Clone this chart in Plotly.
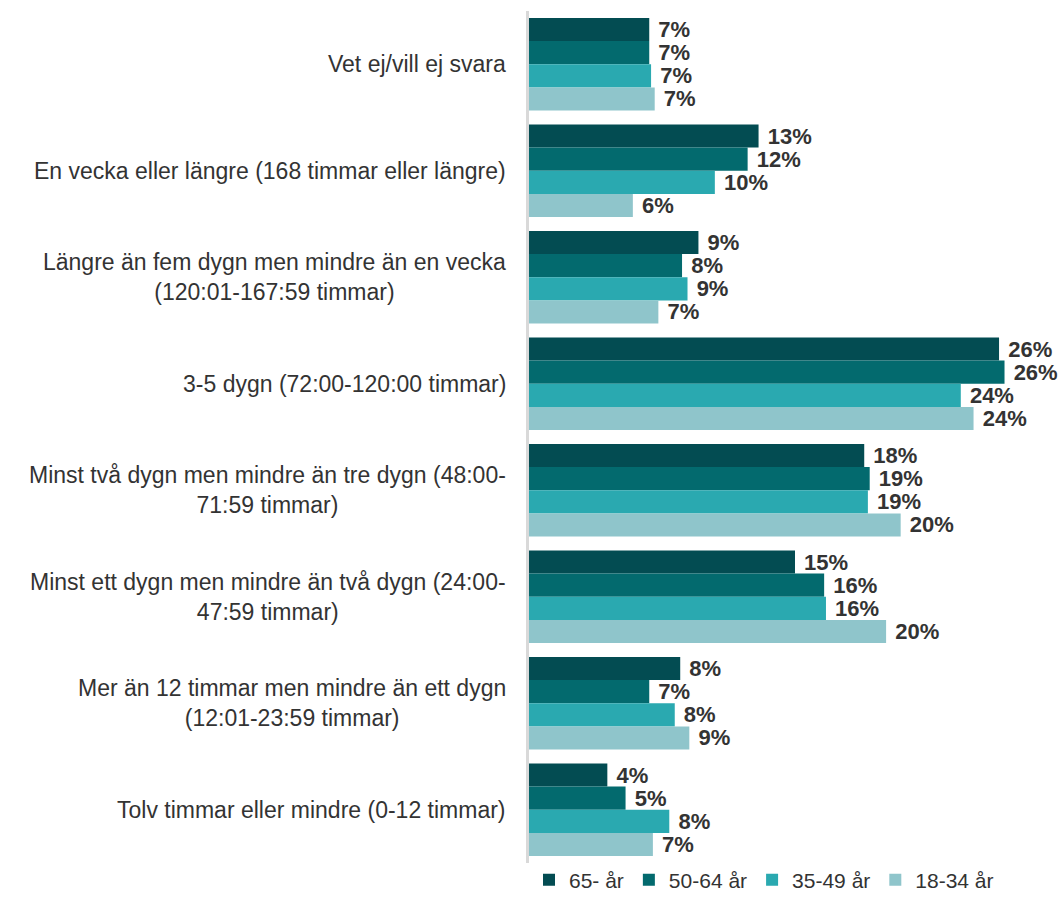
import plotly.graph_objects as go

categories = [
    "Vet ej/vill ej svara",
    "En vecka eller längre (168 timmar eller längre)",
    "Längre än fem dygn men mindre än en vecka<br>(120:01-167:59 timmar)",
    "3-5 dygn (72:00-120:00 timmar)",
    "Minst två dygn men mindre än tre dygn (48:00-<br>71:59 timmar)",
    "Minst ett dygn men mindre än två dygn (24:00-<br>47:59 timmar)",
    "Mer än 12 timmar men mindre än ett dygn<br>(12:01-23:59 timmar)",
    "Tolv timmar eller mindre (0-12 timmar)",
]

age_groups = ["65- år", "50-64 år", "35-49 år", "18-34 år"]

values_65 = [6.6, 12.6, 9.3, 25.8, 18.4, 14.6, 8.3, 4.3]
values_50_64 = [6.6, 12.0, 8.4, 26.1, 18.7, 16.2, 6.6, 5.3]
values_35_49 = [6.7, 10.2, 8.7, 23.7, 18.6, 16.3, 8.0, 7.7]
values_18_34 = [6.9, 5.7, 7.1, 24.4, 20.4, 19.6, 8.8, 6.8]

series = [values_65, values_50_64, values_35_49, values_18_34]
colors = ["#034c52", "#036a6e", "#2aa9b0", "#8fc5cb"]

fig = go.Figure()
for name, vals, col in zip(age_groups, series, colors):
    fig.add_trace(go.Bar(
        y=categories, x=vals, name=name, orientation="h",
        marker=dict(color=col, line=dict(width=0)),
        text=[f"\u00a0{round(v)}%" for v in vals],
        textposition="outside", cliponaxis=False, constraintext="none",
        textfont=dict(family="Liberation Sans", size=22, color="#333333"),
        texttemplate="<b>%{text}</b>",
    ))

# centred multi-line category labels to the left of the axis
annotations = [
    dict(x=0, y=c, xref="paper", yref="y", text=c, showarrow=False,
         xanchor="right", align="center", xshift=-21,
         font=dict(family="Liberation Sans", size=23, color="#333333"))
    for c in categories
]

fig.update_layout(
    width=1061, height=897,
    margin=dict(l=529, r=0, t=11, b=34, autoexpand=False),
    barmode="group", bargap=0.13, bargroupgap=0,
    plot_bgcolor="white", paper_bgcolor="white",
    showlegend=True,
    legend=dict(orientation="h", x=0, y=0.004, xanchor="left", yanchor="top",
                font=dict(family="Liberation Sans", size=21, color="#333333"),
                itemwidth=30, traceorder="normal"),
    annotations=annotations,
    xaxis=dict(range=[0, 29.2], visible=False),
    yaxis=dict(autorange="reversed", showticklabels=False, showgrid=False,
               showline=True, linecolor="#d9d9d9", linewidth=3, ticks=""),
)

# drop the default page margin so the figure sits at the window's corner
fig.write_html("out.html", config={"displayModeBar": False},
               post_script="document.body.style.margin='0';")
